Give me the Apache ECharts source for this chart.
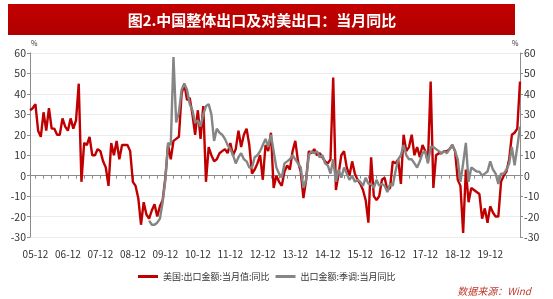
<!DOCTYPE html>
<html><head><meta charset="utf-8">
<script src="https://cdn.jsdelivr.net/npm/echarts@6/dist/echarts.min.js"></script>
<style>html,body{margin:0;padding:0;background:#fff}#c{width:553px;height:299px}</style>
</head><body><div id="c"></div>
<script>
// Monthly categories 2005-10 .. 2020-11
const startYear = 2005, startMonth = 10, monthCount = 182;
const categories = [];
for (let k = 0; k < monthCount; k++) {
  const m0 = startMonth - 1 + k;
  const y = startYear + Math.floor(m0 / 12), m = (m0 % 12) + 1;
  categories.push(String(y % 100).padStart(2, '0') + '-' + String(m).padStart(2, '0'));
}
const seriesNames = ['美国:出口金额:当月值:同比', '出口金额:季调:当月同比'];
// 美国:出口金额:当月值:同比 (%)
const usExportYoY = [
  32,33,35,22,19,31,22,33,23,23,
  20,20,28,24,22,28,23,27,45,-3,
  16,15,19,10,10,13,12,7,4,-5,
  16,10,17,8,15,15,15,12,-3,-5,
  -11,-24,-13,-19,-21,-17,-14,-20,-15,-12,
  -1,15,8,17,18,19,40,45,37,38,
  30,20,32,18,34,-3,14,10,7,8,
  11,12,13,11,16,10,13,22,14,20,
  23,15,1,3,6,10,-2,15,12,21,
  -6,0,-3,-5,2,5,3,12,17,7,
  2,-11,-2,12,11,13,10,11,9,7,
  6,8,48,-7,1,10,12,4,0,7,
  1,-2,-4,-7,-12,-23,9,-10,-12,-10,
  -2,-1,-7,-6,7,6,8,-4,20,12,
  14,20,10,14,9,15,12,7,46,-6,
  10,11,11,12,12,13,15,12,-2,-5,
  -28,3,-13,-6,-7,-8,-9,-21,-16,-23,
  -15,-18,-20,-20,-3,0,2,8,20,21,23,46
];
// 出口金额:季调:当月同比 (%), starts 2009-06
const totalExportSAYoY = [
  null,null,null,null,null,null,null,null,null,null,
  null,null,null,null,null,null,null,null,null,null,
  null,null,null,null,null,null,null,null,null,null,
  null,null,null,null,null,null,null,null,null,null,
  null,null,null,null,
  -22,-24,-24,-23,-21,-13,
  -2,16,15,58,26,31,42,45,42,35,
  32,26,27,24,30,34,35,30,17,23,
  21,20,18,15,13,10,6,9,11,8,
  7,4,4,9,10,12,15,18,14,20,
  12,4,1,-1,6,7,8,10,8,6,
  4,-6,-2,10,12,11,12,9,10,6,
  5,1,8,-3,3,-1,4,1,-2,0,
  -3,-2,-3,-5,-1,-4,-4,-6,-2,-5,
  -4,-5,-8,-4,-5,2,8,10,15,10,
  8,8,6,4,7,11,12,6,14,14,
  13,12,11,12,11,13,15,12,8,-3,
  6,16,-3,4,3,2,2,0,1,2,
  7,3,1,-4,1,1,3,6,14,5,14,24
];
const yMin = -30, yMax = 60, yStep = 10;

const chart = echarts.init(document.getElementById('c'), null, {renderer: 'canvas'});
const monthOf = i => categories[i].slice(3);
const fontFam = '"Noto Sans CJK SC", "Noto Sans", sans-serif';
const yAxisCommon = {
  type: 'value', min: yMin, max: yMax, interval: yStep,
  axisLine: {show: true, lineStyle: {color: '#8c8c8c', width: 1}},
  axisTick: {show: true, length: 3, lineStyle: {color: '#8c8c8c'}},
  axisLabel: {fontSize: 10.5, color: '#333', margin: 4, fontFamily: fontFam}
};
chart.setOption({
  animation: false,
  backgroundColor: '#fff',
  textStyle: {fontFamily: fontFam},
  grid: {left: 30, right: 33, top: 53, bottom: 62},
  legend: {
    left: 133, top: 267, itemWidth: 20, itemHeight: 3, icon: 'rect', itemGap: 6,
    textStyle: {fontSize: 9, color: '#333', fontFamily: fontFam},
    data: seriesNames
  },
  xAxis: {
    type: 'category', data: categories, boundaryGap: false,
    axisLine: {lineStyle: {color: '#8c8c8c', width: 1}},
    axisTick: {interval: i => Number(monthOf(i)) % 3 === 0, length: 3, lineStyle: {color: '#8c8c8c'}},
    axisLabel: {interval: i => monthOf(i) === '12', fontSize: 10, color: '#333', margin: 12, fontFamily: fontFam,
      formatter: v => v.slice(0, 2) + '-' + v.slice(3)}
  },
  yAxis: [
    Object.assign({}, yAxisCommon, {position: 'left', splitLine: {show: true, lineStyle: {color: '#ececec', width: 1}}}),
    Object.assign({}, yAxisCommon, {position: 'right', splitLine: {show: false}})
  ],
  series: [
    {name: seriesNames[0], type: 'line', data: usExportYoY, showSymbol: false, symbol: 'none',
      lineStyle: {color: '#C00000', width: 2.4}, itemStyle: {color: '#C00000'}},
    {name: seriesNames[1], type: 'line', data: totalExportSAYoY, showSymbol: false, symbol: 'none', connectNulls: false,
      lineStyle: {color: '#858585', width: 2.4}, itemStyle: {color: '#858585'}}
  ],
  graphic: [
    {type: 'rect', shape: {x: 8, y: 4, width: 507, height: 31},
      style: {fill: new echarts.graphic.LinearGradient(0, 0, 0, 1, [{offset: 0, color: '#C40000'}, {offset: 1, color: '#B00000'}])}},
    {type: 'text', x: 262, y: 20, style: {text: '图2.中国整体出口及对美出口：当月同比', fill: '#fff', fontSize: 15, fontWeight: 'bold',
      fontFamily: fontFam, align: 'center', verticalAlign: 'middle'}},
    {type: 'text', x: 31, y: 43, style: {text: '%', fill: '#333', fontSize: 7, fontFamily: fontFam, verticalAlign: 'middle'}},
    {type: 'text', x: 512, y: 43, style: {text: '%', fill: '#333', fontSize: 7, fontFamily: fontFam, verticalAlign: 'middle'}},
    {type: 'text', x: 531, y: 291, style: {text: '数据来源：Wind', fill: '#C0392B', fontSize: 10, fontStyle: 'italic',
      fontFamily: fontFam, align: 'right', verticalAlign: 'middle'}}
  ]
});
</script></body></html>
